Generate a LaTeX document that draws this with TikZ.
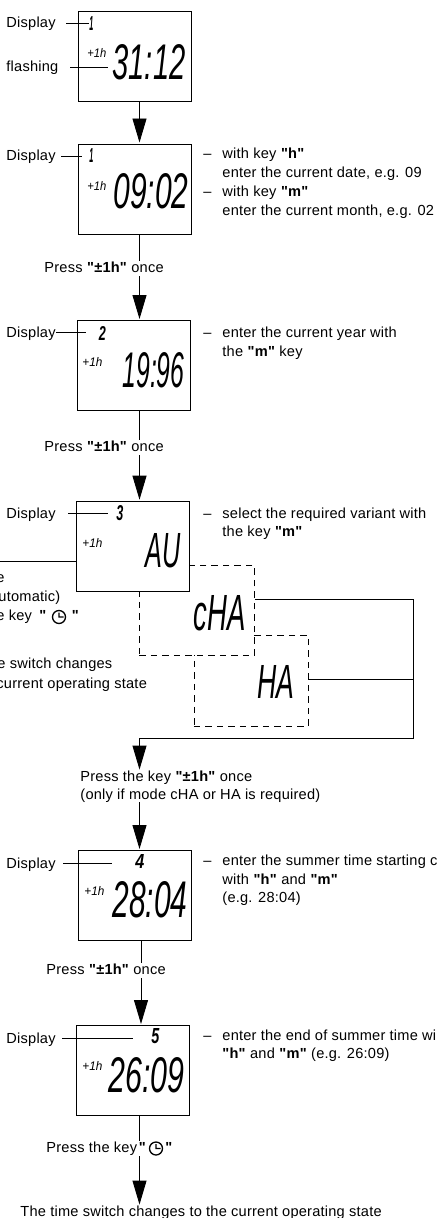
\documentclass[tikz,border=0pt]{standalone}
\usepackage{fontspec}
\usepackage{graphicx}
\setmainfont{Liberation Sans}
\usetikzlibrary{arrows.meta}
\newfontfamily\lcdf{Liberation Sans}
\newfontfamily\bodyf{Liberation Sans}[LetterSpace=1.5]
\newcommand\lcdread[6]{\node[lcdnode] (#1) at (#2,#3) {\resizebox{#4pt}{#5pt}{\lcdf\itshape #6}};}
\newcommand\lcdtag[6]{\node[lcdnode] (#1) at (#2,#3) {\resizebox{#4pt}{#5pt}{\lcdf\bfseries\itshape #6}};}
\newcommand\lcdsmall[6]{\node[lcdnode] (#1) at (#2,#3) {\resizebox{#4pt}{#5pt}{\lcdf\itshape #6}};}
\begin{document}
\begin{tikzpicture}[x=1pt,y=-1pt,line width=.9pt,
  body/.style={font=\bodyf\fontsize{14.6}{17}\selectfont,inner sep=0pt,anchor=base west,text height=10pt,text depth=3pt},
  pressnode/.style={body,inner ysep=1pt},
  lcdnode/.style={inner sep=0pt,anchor=north west},
  disp/.style={draw=black,fill=white,minimum width=113pt,minimum height=90pt,inner sep=0pt,anchor=north west},
  dashbox/.style={draw=black,fill=white,dash pattern=on 6.5pt off 5pt,minimum height=90pt,inner sep=0pt,anchor=north west},
  flow/.style={-{Triangle[length=24pt,width=14pt]},shorten >=1pt},
  clockface/.style={line width=1.3pt}]
\useasboundingbox (0,0) rectangle (437,1218);
% dashed variants
\node[dashbox,minimum width=114.5pt,minimum height=90.7pt] (hab) at (193.5,635) {};
\node[dashbox,minimum width=115pt] (chab) at (139,565) {};
% display boxes
\node[disp] (b1) at (78,10.5) {};
\node[disp] (b2) at (78,143.5) {};
\node[disp] (b3) at (77,320) {};
\node[disp] (b4) at (76,500.7) {};
\node[disp] (b5) at (78,850) {};
\node[disp] (b6) at (75.5,1025) {};
% readouts
\lcdread{r1}{112}{44}{73}{35}{31:12}
\lcdread{r2}{113}{173}{75}{35}{09:02}
\lcdread{r3}{122}{352}{62}{35}{19:96}
\lcdread{r4}{145}{533}{35}{34}{AU}
\lcdread{r5}{193}{595}{52}{35}{cHA}
\lcdread{r6}{257}{665}{37}{33}{HA}
\lcdread{r7}{112}{881}{75}{36}{28:04}
\lcdread{r8}{108}{1057}{76}{35}{26:09}
% step tags
\lcdtag{t1}{89}{16}{4}{14}{1}
\lcdtag{t2}{89}{148}{4}{14}{1}
\lcdtag{t3}{98.5}{326}{7}{14}{2}
\lcdtag{t4}{116}{505}{7}{15}{3}
\lcdtag{t5}{135}{854}{9}{14}{4}
\lcdtag{t6}{151}{1028}{8}{15}{5}
% +1h
\lcdsmall{h1}{87}{48}{19}{9}{+1h}
\lcdsmall{h2}{87}{181}{19}{9}{+1h}
\lcdsmall{h3}{82}{357}{20}{9}{+1h}
\lcdsmall{h4}{82}{538}{20}{9}{+1h}
\lcdsmall{h5}{84}{886}{20}{9}{+1h}
\lcdsmall{h6}{82}{1061}{20}{9}{+1h}
% left labels
\node[body] (l1) at (6,27.5) {Display};
\node[body] (f1) at (6,71.5) {flashing};
\node[body] (l2) at (6,160.5) {Display};
\node[body] (l3) at (6,337) {Display};
\node[body] (l4) at (6,518) {Display};
\node[body] (l5) at (6,868) {Display};
\node[body] (l6) at (6,1043) {Display};
\coordinate (a1) at (66,23);
\draw (a1) -- (t1.west |- a1);
\coordinate (a0) at (70,67);
\coordinate (a0e) at (108,67);
\draw (a0) -- (a0e);
\coordinate (a2) at (61,156);
\coordinate (a2e) at (82,156);
\draw (a2) -- (a2e);
\coordinate (a3) at (56,332);
\coordinate (a3e) at (86,332);
\draw (a3) -- (a3e);
\coordinate (a4) at (68,513);
\coordinate (a4e) at (108,513);
\draw (a4) -- (a4e);
\coordinate (a5) at (63,863);
\coordinate (a5e) at (112,863);
\draw (a5) -- (a5e);
\coordinate (a6) at (62,1038);
\coordinate (a6e) at (133,1038);
\draw (a6) -- (a6e);
% right notes
\node[body] at (203,158) {–};
\node[body] at (222,158) {with key \textbf{"h"}};
\node[body] at (222,177) {enter the current date, e.g. 09};
\node[body] at (203,196) {–};
\node[body] at (222,196) {with key \textbf{"m"}};
\node[body] at (222,215) {enter the current month, e.g. 02};
\node[body] at (203,337) {–};
\node[body] at (222,337) {enter the current year with};
\node[body] at (222,356) {the \textbf{"m"} key};
\node[body] at (203,518) {–};
\node[body] at (222,518) {select the required variant with};
\node[body] at (222,536) {the key \textbf{"m"}};
\node[body] at (203,865) {–};
\node[body] at (222,865) {enter the summer time starting c};
\node[body] at (222,884) {with \textbf{"h"} and \textbf{"m"}};
\node[body] at (222,902) {(e.g. 28:04)};
\node[body] at (203,1040) {–};
\node[body] at (222,1040) {enter the end of summer time wi};
\node[body] at (222,1058) {\textbf{"h"} and \textbf{"m"} (e.g. 26:09)};
% notes cut by the left edge
\coordinate (m1) at (0,561.7);
\draw (m1) -- (b4.west |- m1);
\node[body] at (-4,582) {e};
\node[body] at (-2,601) {utomatic)};
\node[body] at (-4,620) {e key};
\node[body] at (39,620) {\textbf{"}};
\node[body] at (71.5,620) {\textbf{"}};
\draw[clockface] (59,617) circle (6.5pt) (59,612.5) -- (59,617) -- (63.5,617);
\node[body] at (-3,668) {e switch changes};
\node[body] at (-4,688) {current operating state};
% press labels
\node[pressnode] (p2) at (44,272) {Press \textbf{"±1h"} once};
\node[pressnode] (p3) at (44,451) {Press \textbf{"±1h"} once};
\node[body] (p4) at (80,781) {Press the key \textbf{"±1h"} once};
\node[body] (p4b) at (80,799) {(only if mode cHA or HA is required)};
\node[pressnode] (p5) at (46,974) {Press \textbf{"±1h"} once};
\node[pressnode] (p6) at (46,1152) {Press the key};
\node[body] (p6a) at (138.5,1152) {\textbf{"}};
\node[body] (p6b) at (165,1152) {\textbf{"}};
\draw[clockface] (156,1148.5) circle (6.5pt) (156,1144) -- (156,1148.5) -- (160.5,1148.5);
\node[body] (end) at (20,1216) {The time switch changes to the current operating state};
% connectors
\coordinate (ax) at (139.5,0);
\coordinate (ay) at (141,0);
\draw[flow] (b1.south -| ax) -- (b2.north -| ax);
\draw (b2.south -| ax) -- (p2.north -| ax);
\draw[flow] (p2.south -| ax) -- (b3.north -| ax);
\draw (b3.south -| ax) -- (p3.north -| ax);
\draw[flow] (p3.south -| ax) -- (b4.north -| ax);
% outputs of variants
\coordinate (c1) at (413.5,599);
\coordinate (c2) at (413.5,679.5);
\coordinate (c3) at (413.5,738);
\coordinate (c4) at (139.5,738);
\draw (chab.east |- c1) -- (c1) -- (c3) -- (c4);
\draw (hab.east |- c2) -- (c2);
\draw[flow] (c4) -- (p4.north -| c4);
\draw[flow] (p4b.south -| ax) -- (b5.north -| ax);
\draw (b5.south -| ay) -- (p5.north -| ay);
\draw[flow] (p5.south -| ay) -- (b6.north -| ay);
\draw (b6.south -| ax) -- (p6.north -| ax);
\draw[flow] (p6.south -| ax) -- (end.north -| ax);
\end{tikzpicture}
\end{document}
